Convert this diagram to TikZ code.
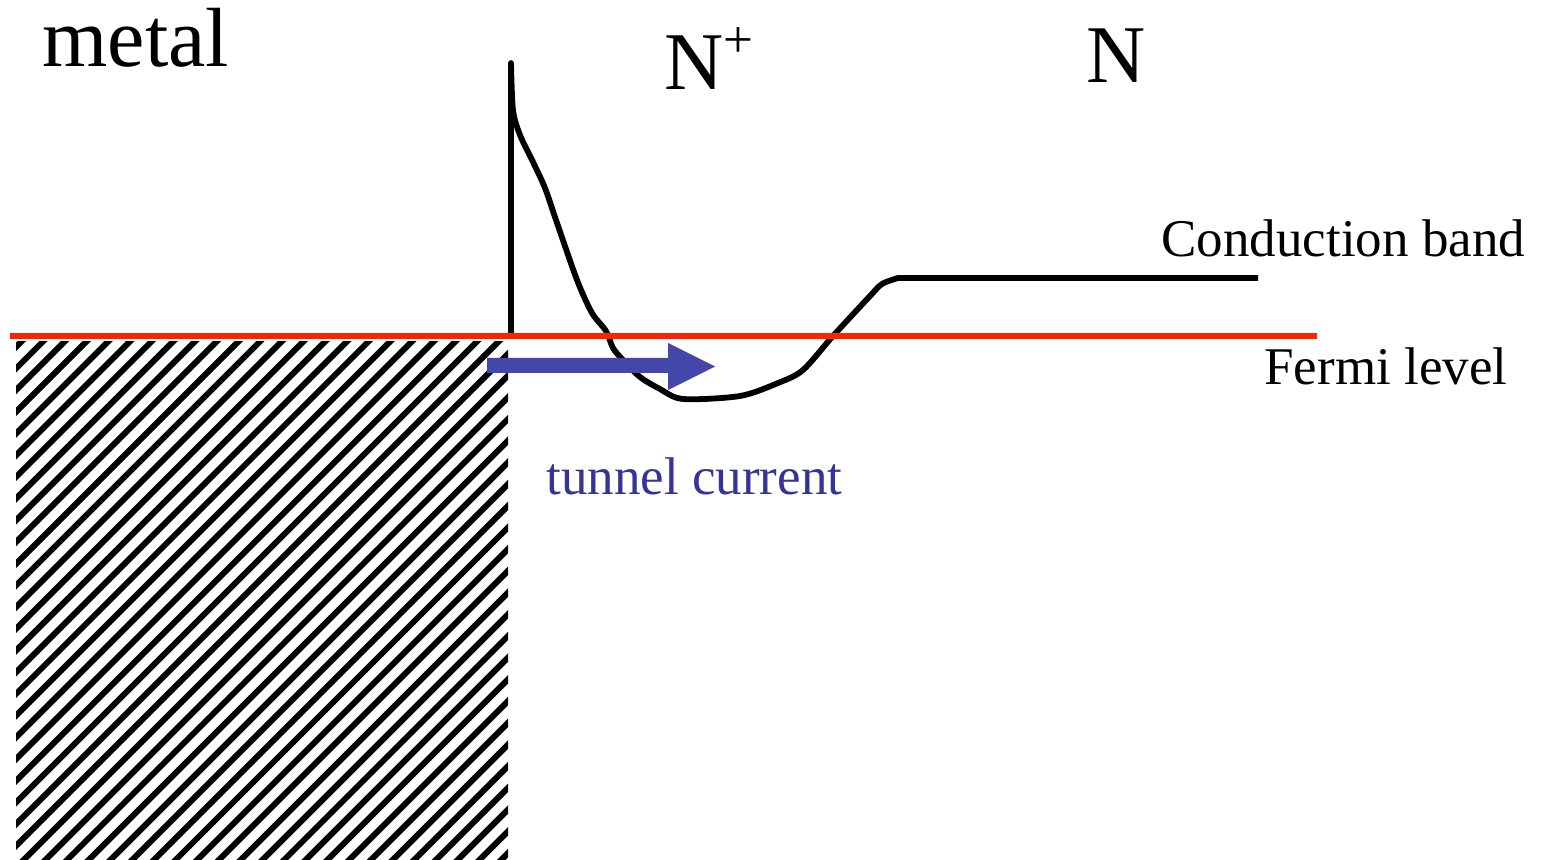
\documentclass[tikz,border=0pt]{standalone}
\usepackage{fontspec}
\setmainfont{Liberation Serif}
\definecolor{fermired}{RGB}{255,34,0}
\definecolor{arrowblue}{RGB}{67,71,170}
\definecolor{textblue}{RGB}{51,51,153}
\begin{document}
\begin{tikzpicture}[x=0.5pt,y=-0.5pt,
  bigtext/.style={anchor=base west,inner sep=0pt,font=\fontsize{41}{41}\selectfont},
  smalltext/.style={anchor=base west,inner sep=0pt,font=\fontsize{26.5}{26.5}\selectfont},
  bandline/.style={line width=2.9pt,line join=round,black},
  hatchline/.style={line width=3pt,black}]
\useasboundingbox (0,0) rectangle (1547,860);
% hatched metal
\begin{scope}
  \clip (16,342) rectangle (508,860);
  \foreach \k in {0,...,48}{
    \pgfmathsetmacro{\c}{341.1+21.7*\k}
    \draw[hatchline] (\c-880,880) -- (\c-320,320);
  }
\end{scope}
% conduction band
\draw[bandline] (511,334) -- plot[smooth,tension=0.5] coordinates {
  (511,63) (513,110) (520,135) (533,162) (545,188) (556,220) (577,280)
  (592,313) (606,331) (613,348) (623,360) (640,377) (660,389) (683,399)
  (740,396) (778,383) (803,370) (833,336) (870,296) (882,284) (898,278)}
  -- (1258,278);
% Fermi level
\draw[fermired,line width=3pt] (10,336) -- (1317,336);
% tunnel current arrow
\fill[arrowblue] (487,358) -- (668,358) -- (668,343) -- (715,366.5) -- (668,390) -- (668,373) -- (487,373) -- cycle;
% labels
\node[bigtext,font=\fontsize{42}{42}\selectfont] (metal) at (42,67) {metal};
\node[bigtext] (nplus) at (664,90) {N\raisebox{16pt}{\fontsize{26.5}{26.5}\selectfont +}};
\node[bigtext] (n) at (1086,83) {N};
\node[smalltext] (cb) at (1161,257) {Conduction band};
\node[smalltext] (fl) at (1264,385) {Fermi level};
\node[smalltext,text=textblue] (tc) at (546,495) {tunnel current};
\end{tikzpicture}
\end{document}
